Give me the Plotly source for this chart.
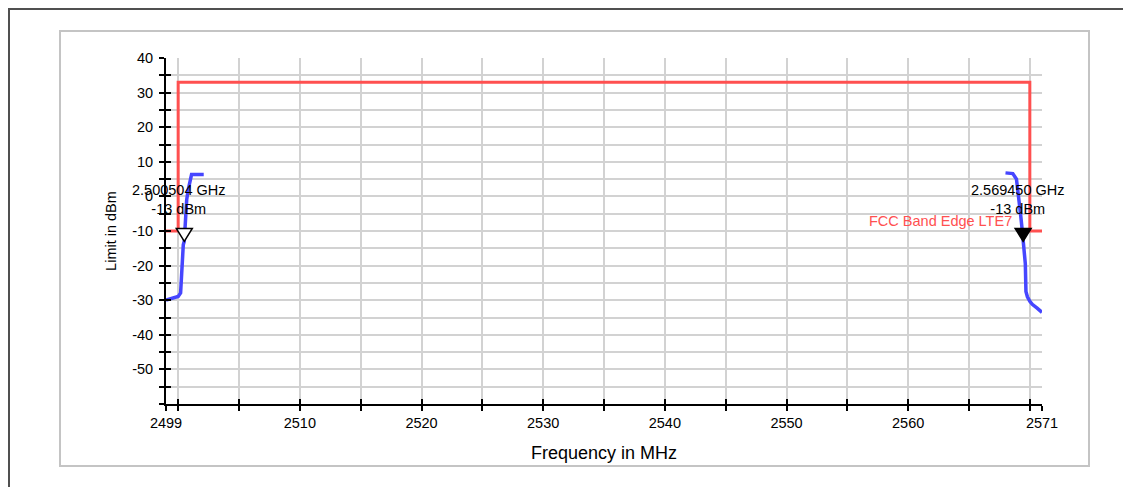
import plotly.graph_objects as go

# ---- data ----
limit_freq = [2499, 2500, 2500, 2570, 2570, 2571]
limit_level = [-10, -10, 33, 33, -10, -10]
limit_name = "FCC Band Edge LTE7"

left_freq = [2499.0, 2499.3, 2499.6, 2500.0, 2500.2, 2500.27, 2500.32, 2500.42, 2500.5,
             2500.58, 2500.7, 2500.83, 2500.97, 2501.1, 2502.1]
left_level = [-30.0, -29.7, -29.3, -28.9, -27.9, -22.0, -17.0, -14.0, -13.0,
              -8.5, -1.0, 2.0, 4.5, 6.3, 6.3]

right_freq = [2568.0, 2568.6, 2568.9, 2569.1, 2569.25, 2569.37, 2569.45, 2569.55,
              2569.63, 2569.68, 2569.8, 2570.0, 2570.2, 2570.6, 2571.0]
right_level = [6.8, 6.6, 5.0, 0.0, -5.5, -9.6, -13.0, -16.5,
               -19.5, -27.5, -29.0, -30.3, -31.2, -32.3, -33.5]

marker_freq = [2500.504, 2569.450]
marker_level = [-13, -13]
marker_text = ["2.500504 GHz<br>-13 dBm", "2.569450 GHz<br>-13 dBm"]
marker_filled = [False, True]

x_tickvals = [2499] + list(range(2500, 2571, 5)) + [2571]
x_ticktext = ["2499", "", "", "2510", "", "2520", "", "2530", "", "2540", "", "2550", "",
              "2560", "", "", "2571"]
y_tickvals = list(range(-60, 41, 5))
y_ticktext = ["" if (v % 10 != 0 or v == -60) else str(v) for v in y_tickvals]

x_range = [2499, 2571]
y_range = [-60, 40]

# ---- layout constants ----
OFF = 8  # page body margin
W, H = 1131, 487
PLOT_L, PLOT_T, PLOT_W, PLOT_H = 166, 58, 876, 346  # in page pixels
ML = PLOT_L - OFF
MT = PLOT_T - OFF
MR = W - ML - PLOT_W
MB = H - MT - PLOT_H
FONT = "Arial, Liberation Sans, sans-serif"
RED = "#ff5050"
BLUE = "#4646ff"
GRID = "#d2d2d2"


def px_x(px):
    return (px - PLOT_L) / PLOT_W


def px_y(py):
    return (PLOT_T + PLOT_H - py) / PLOT_H


fig = go.Figure()

fig.add_trace(go.Scatter(x=limit_freq, y=limit_level, mode="lines",
                         line=dict(color=RED, width=3), showlegend=False, hoverinfo="skip"))
fig.add_trace(go.Scatter(x=left_freq, y=left_level, mode="lines",
                         line=dict(color=BLUE, width=3.5), showlegend=False))
fig.add_trace(go.Scatter(x=right_freq, y=right_level, mode="lines",
                         line=dict(color=BLUE, width=3.5), showlegend=False))
# dummy trace to activate overlay axes (inside ticks)
fig.add_trace(go.Scatter(x=[], y=[], xaxis="x2", yaxis="y2", showlegend=False))

shapes = []
# outer dark frame
shapes.append(dict(type="rect", xref="paper", yref="paper",
                   x0=px_x(9), x1=px_x(1160), y0=px_y(520), y1=px_y(9),
                   line=dict(color="#505050", width=2), layer="below"))
# inner gray panel
shapes.append(dict(type="rect", xref="paper", yref="paper",
                   x0=px_x(60), x1=px_x(1089), y0=px_y(466), y1=px_y(31),
                   line=dict(color="#c4c4c4", width=2), layer="below"))
# marker triangles
for f, lv, filled in zip(marker_freq, marker_level, marker_filled):
    shapes.append(dict(type="path", xref="x", yref="y", xsizemode="pixel", ysizemode="pixel",
                       xanchor=f, yanchor=lv, path="M -8,13 L 8,13 L 0,0 Z",
                       fillcolor="black" if filled else "white",
                       line=dict(color="black", width=1.5)))

annotations = []
for f, lv, t in zip(marker_freq, marker_level, marker_text):
    annotations.append(dict(x=f, y=lv, xref="x", yref="y", text=t, showarrow=False,
                            xanchor="center", yanchor="bottom", xshift=-5, yshift=22,
                            align="center", font=dict(family=FONT, size=14.5, color="black")))
annotations.append(dict(x=limit_freq[3], y=limit_level[4], xref="x", yref="y", text=limit_name,
                        showarrow=False, xanchor="right", yanchor="bottom", xshift=-16, yshift=0,
                        font=dict(family=FONT, size=14.5, color=RED)))

axis_common = dict(showline=True, linecolor="black", linewidth=2, ticks="outside",
                   ticklen=5, tickwidth=2, tickcolor="black", zeroline=False,
                   gridcolor=GRID, gridwidth=2, tickfont=dict(family=FONT, size=14.5, color="black"))

fig.update_layout(
    width=W, height=H,
    margin=dict(l=ML, r=MR, t=MT, b=MB, autoexpand=False),
    paper_bgcolor="white", plot_bgcolor="white",
    font=dict(family=FONT, color="black"),
    xaxis=dict(range=x_range, tickmode="array", tickvals=x_tickvals, ticktext=x_ticktext,
               title=dict(text="Frequency in MHz", font=dict(family=FONT, size=18), standoff=16),
               automargin=False, **axis_common),
    yaxis=dict(range=y_range, tickmode="array", tickvals=y_tickvals, ticktext=y_ticktext,
               title=dict(text="Limit in dBm", font=dict(family=FONT, size=14.5), standoff=12),
               automargin=False, ticklabelstandoff=3, **axis_common),
    xaxis2=dict(range=x_range, overlaying="x", anchor="y2", side="bottom", tickmode="array",
                tickvals=x_tickvals, ticks="inside", ticklen=5, tickwidth=2, tickcolor="black",
                showticklabels=False, showgrid=False, zeroline=False, showline=False),
    yaxis2=dict(range=y_range, overlaying="y", anchor="x2", side="left", tickmode="array",
                tickvals=y_tickvals, ticks="inside", ticklen=5, tickwidth=2, tickcolor="black",
                showticklabels=False, showgrid=False, zeroline=False, showline=False),
    shapes=shapes,
    annotations=annotations,
)

fig.write_html("out.html")
